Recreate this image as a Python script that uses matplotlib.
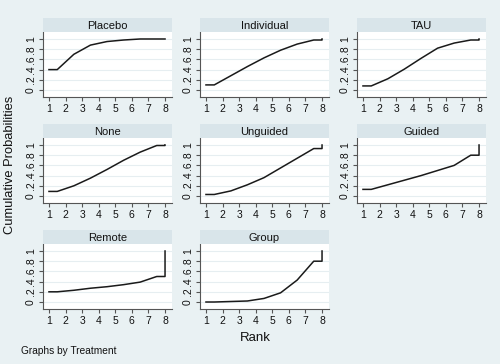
import numpy as np
import matplotlib
matplotlib.use('Agg')
import matplotlib.pyplot as plt

plt.rcParams['font.family'] = ['Liberation Sans', 'DejaVu Sans']

treatments = ['Placebo', 'Individual', 'TAU', 'None', 'Unguided', 'Guided', 'Remote', 'Group']
ranks = [1, 2, 3, 4, 5, 6, 7, 8]

# cumulative probability of being ranked <= k
placebo    = [0.40, 0.70, 0.88, 0.95, 0.98, 1.00, 1.00, 1.00]
individual = [0.10, 0.28, 0.46, 0.63, 0.78, 0.90, 0.98, 1.00]
tau        = [0.08, 0.22, 0.41, 0.62, 0.82, 0.92, 0.98, 1.00]
none       = [0.09, 0.20, 0.35, 0.52, 0.70, 0.86, 0.99, 1.00]
unguided   = [0.03, 0.10, 0.22, 0.36, 0.55, 0.74, 0.93, 1.00]
guided     = [0.13, 0.22, 0.31, 0.40, 0.50, 0.60, 0.80, 1.00]
remote     = [0.20, 0.23, 0.27, 0.30, 0.34, 0.39, 0.50, 1.00]
group      = [0.00, 0.01, 0.02, 0.07, 0.18, 0.43, 0.80, 1.00]

series = [placebo, individual, tau, none, unguided, guided, remote, group]

bg = '#e9f1f3'
strip_col = '#d9e5ea'
W, H = 500, 364

fig = plt.figure(figsize=(5, 3.64), dpi=100, facecolor=bg)

col_left = [43, 200, 357]
row_top = [32, 138, 244]
pw, ph, sh = 129, 65, 14

r = np.array(ranks, dtype=float)
for i, (name, cum) in enumerate(zip(treatments, series)):
    row, col = divmod(i, 3)
    x0 = col_left[col]
    y0 = row_top[row]
    ax = fig.add_axes([x0 / W, 1 - (y0 + ph) / H, pw / W, ph / H])
    sax = fig.add_axes([x0 / W, 1 - y0 / H, pw / W, sh / H])
    sax.set_facecolor(strip_col)
    sax.set_xticks([])
    sax.set_yticks([])
    for s in sax.spines.values():
        s.set_visible(False)
    sax.text(0.5, 0.45, name, ha='center', va='center', fontsize=8, color='#111111')

    c = np.array(cum)
    xs = np.concatenate([[r[0]], r[:-1] + 0.5, [r[-1], r[-1]]])
    ys = np.concatenate([[c[0]], c[:-1], [c[-2], c[-1]]])
    ax.plot(xs, ys, color='#1a1a1a', lw=1.1)

    ax.set_facecolor('white')
    ax.set_xlim(0.64, 8.42)
    ax.set_ylim(-0.137, 1.137)
    ax.set_xticks(ranks)
    ax.set_yticks([0, 0.2, 0.4, 0.6, 0.8, 1.0])
    ax.set_yticklabels(['0', '.2', '.4', '.6', '.8', '1'], rotation=90, va='center')
    ax.grid(axis='y', color='#e6eef1', lw=0.8)
    ax.set_axisbelow(True)
    for s in ['top', 'right']:
        ax.spines[s].set_visible(False)
    for s in ['left', 'bottom']:
        ax.spines[s].set_color('#555555')
        ax.spines[s].set_linewidth(0.8)
    ax.tick_params(axis='both', length=3, width=0.8, color='#555555',
                   labelsize=7.5, labelcolor='#111111', pad=2)

fig.text(10 / W, 1 - 165 / H, 'Cumulative Probabilities', rotation=90,
         ha='center', va='center', fontsize=9.3, color='#111111')
fig.text(255 / W, 1 - 338 / H, 'Rank', ha='center', va='center', fontsize=9.5, color='#111111')
fig.text(21 / W, 1 - 351 / H, 'Graphs by Treatment', ha='left', va='center',
         fontsize=7.3, color='#111111')

fig.savefig('out.png', dpi=100, facecolor=bg)
